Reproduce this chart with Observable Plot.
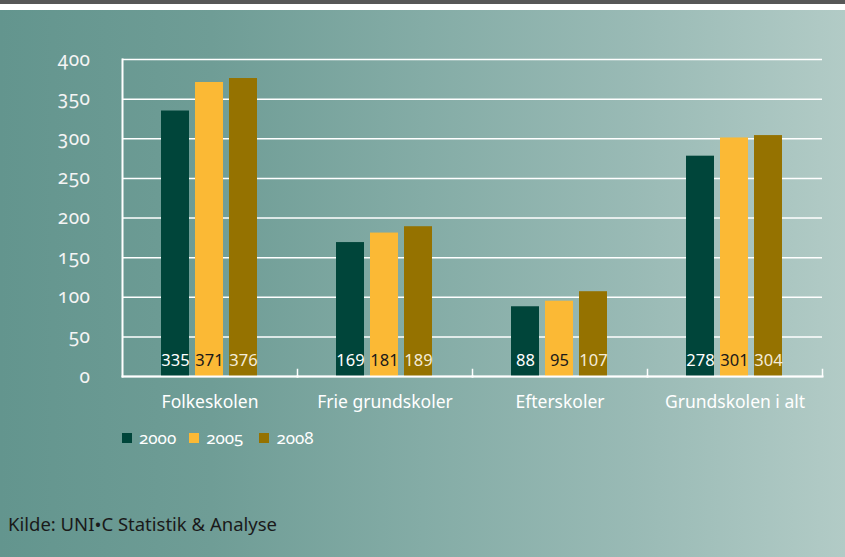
<!DOCTYPE html>
<html><head><meta charset="utf-8">
<script src="https://cdn.jsdelivr.net/npm/d3@7"></script>
<script src="https://cdn.jsdelivr.net/npm/@observablehq/plot@0.6"></script>
<style>
body{margin:0;}
#wrap{position:relative;width:845px;height:557px;overflow:hidden;background:linear-gradient(to right,#63958e 0%,#6f9d96 25%,#84aca6 50%,#99bab5 75%,#b2cbc6 100%);font-family:"Noto Sans",sans-serif;}
#topbar{position:absolute;left:0;top:0;width:845px;height:4px;background:#575757;}
#topwhite{position:absolute;left:0;top:4px;width:845px;height:6px;background:#fff;}
#chart{position:absolute;left:0;top:0;}
#chart g[aria-label="y-axis tick label"] text{font-variant-numeric:oldstyle-nums;font-feature-settings:"onum" 1;letter-spacing:0.5px;}
#legend{position:absolute;left:122px;top:426px;display:flex;align-items:center;font-size:17px;color:#fff;font-feature-settings:"onum" 1;}
#legend .item{display:flex;align-items:center;}
#legend .sw{width:10px;height:10px;margin-right:7px;}
#caption{position:absolute;left:8px;top:511px;font-size:18.5px;color:#1a1a1a;}
</style></head><body>
<div id="wrap">
<div id="topbar"></div><div id="topwhite"></div>
<div id="chart"></div>
<div id="legend"></div>
<div id="caption">Kilde: UNI•C Statistik &amp; Analyse</div>
</div>
<script>
const categories = ["Folkeskolen", "Frie grundskoler", "Efterskoler", "Grundskolen i alt"];
const years = ["2000", "2005", "2008"];
const v2000 = [335, 169, 88, 278];
const v2005 = [371, 181, 95, 301];
const v2008 = [376, 189, 107, 304];
const yTicks = [0, 50, 100, 150, 200, 250, 300, 350, 400];
const colors = ["#00453a", "#fbb935", "#957200"];
const labelColors = ["#ffffff", "#1a1a1a", "#f4ecd9"];
const legendGaps = ["13px", "16px", "0px"];

const series = [v2000, v2005, v2008];
const data = categories.flatMap((c, i) => series.map((s, j) => ({category: c, year: years[j], value: s[i]})));

const labelMarks = years.map((yr, j) => Plot.text(data.filter(d => d.year === yr), {
  fx: "category", x: "year", y: 0, text: d => String(d.value),
  fill: labelColors[j], dy: -16, fontSize: 16.5
}));

const plot = Plot.plot({
  width: 845, height: 420,
  marginTop: 59, marginLeft: 121, marginRight: 23, marginBottom: 44,
  style: {background: "transparent", fontFamily: "'Noto Sans', sans-serif", overflow: "visible"},
  fx: {domain: categories, padding: 0, label: null, axis: null},
  x: {domain: years, paddingInner: 0.17, paddingOuter: 1.086, axis: null},
  y: {domain: [0, 400], axis: null},
  color: {domain: years, range: colors},
  marks: [
    Plot.ruleY(yTicks, {stroke: "#ffffff", strokeWidth: 1.5}),
    Plot.barY(data, {fx: "category", x: "year", y: "value", fill: "year"}),
    ...labelMarks,
    Plot.frame({anchor: "left", facetAnchor: "left", stroke: "#ffffff", strokeWidth: 2}),
    Plot.frame({anchor: "bottom", stroke: "#ffffff", strokeWidth: 2}),
    Plot.frame({anchor: "right", insetTop: 310, stroke: "#ffffff", strokeWidth: 1.5}),
    Plot.axisY(yTicks, {tickSize: 0, tickPadding: 32, fontSize: 19, fill: "#f4f4f4", label: null}),
    Plot.axisFx({anchor: "bottom", tickSize: 0, tickPadding: 19, fontSize: 17.5, fill: "#ffffff", label: null})
  ]
});
document.getElementById("chart").appendChild(plot);

const legend = document.getElementById("legend");
years.forEach((yr, j) => {
  const item = document.createElement("div");
  item.className = "item";
  item.style.marginRight = legendGaps[j];
  const sw = document.createElement("div");
  sw.className = "sw";
  sw.style.background = colors[j];
  const t = document.createElement("span");
  t.textContent = yr;
  item.appendChild(sw); item.appendChild(t);
  legend.appendChild(item);
});
</script>
</body></html>
